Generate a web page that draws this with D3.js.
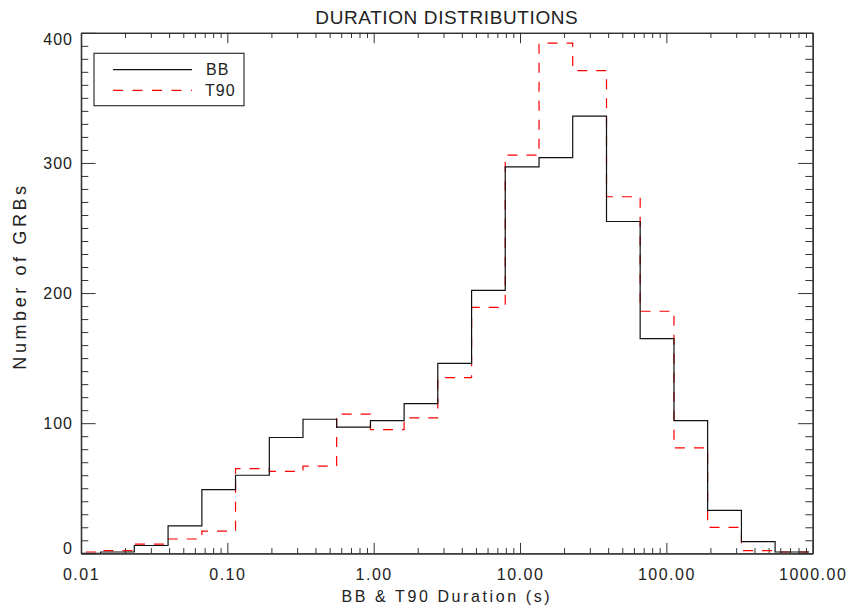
<!DOCTYPE html>
<html>
<head>
<meta charset="utf-8">
<script src="https://cdn.jsdelivr.net/npm/d3@7/dist/d3.min.js"></script>
<style>
  html, body { margin: 0; padding: 0; background: #fff; }
  svg { display: block; }
  text { font-family: "Liberation Sans", Arial, sans-serif; fill: #222; }
</style>
</head>
<body>
<svg id="chart" width="854" height="613"></svg>
<script>
// ---- data ----
// histogram bin edges, log10(duration in s)
const binEdgesLog = [-2.097, -1.866, -1.636, -1.405, -1.174, -0.944, -0.713, -0.483, -0.253, -0.022,
  0.208, 0.438, 0.669, 0.899, 1.130, 1.360, 1.591, 1.821, 2.052, 2.282, 2.513, 2.743, 2.974];
const bbCounts  = [0, 1, 6, 21, 49, 60, 89, 103, 97, 102, 115, 146, 202, 297, 304, 336, 255, 165, 102, 33, 9, 1];
const t90Counts = [1, 2, 7, 11, 17, 65, 63, 67, 107, 95, 104, 135, 189, 306, 392, 371, 274, 186, 81, 20, 2, 1];
const seriesNames = ["BB", "T90"];
const xMajorTicks = [0.01, 0.1, 1, 10, 100, 1000];
const xTickLabels = ["0.01", "0.10", "1.00", "10.00", "100.00", "1000.00"];
const yMajorTicks = [0, 100, 200, 300, 400];
const yTickLabels = ["0", "100", "200", "300", "400"];
const chartTitle = "DURATION DISTRIBUTIONS";
const xTitle = "BB & T90 Duration (s)";
const yTitle = "Number of GRBs";

// ---- layout ----
const L = 81, R = 812.7, T = 32.8, B = 553.3;
const svg = d3.select("#chart");

const x = d3.scaleLog().domain([0.01, 1000]).range([L, R]);
const y = d3.scaleLinear().domain([0, 400]).range([B, T]);

const xMinor = x.ticks().filter(v => !xMajorTicks.some(m => Math.abs(m - v) / m < 1e-9));
const yMinor = d3.range(0, 401, 10).filter(v => v % 100 !== 0);

const axisColor = "#333";
const xMaj = 10.4, xMin = 5.2, yMaj = 14.6, yMin = 7.3;

function styleAxis(g) {
  g.select(".domain").attr("stroke", axisColor).attr("stroke-width", 1.3);
  g.selectAll(".tick line").attr("stroke", axisColor).attr("stroke-width", 1);
  g.selectAll("text").attr("font-size", 16).attr("letter-spacing", "1.5px").attr("fill", "#222")
    .attr("font-family", "'Liberation Sans', Arial, sans-serif");
}

// bottom axis
const gB = svg.append("g").attr("transform", `translate(0,${B})`)
  .call(d3.axisBottom(x).tickValues(xMajorTicks).tickSize(-xMaj).tickPadding(15)
    .tickFormat((d, i) => xTickLabels[i]).tickSizeOuter(0));
styleAxis(gB);
svg.append("g").attr("transform", `translate(0,${B})`)
  .call(d3.axisBottom(x).tickValues(xMinor).tickSize(-xMin).tickFormat("").tickSizeOuter(0))
  .call(styleAxis);
// top axis
svg.append("g").attr("transform", `translate(0,${T})`)
  .call(d3.axisTop(x).tickValues(xMajorTicks).tickSize(-xMaj).tickFormat("").tickSizeOuter(0))
  .call(styleAxis);
svg.append("g").attr("transform", `translate(0,${T})`)
  .call(d3.axisTop(x).tickValues(xMinor).tickSize(-xMin).tickFormat("").tickSizeOuter(0))
  .call(styleAxis);
// left axis
const gL = svg.append("g").attr("transform", `translate(${L},0)`)
  .call(d3.axisLeft(y).tickValues(yMajorTicks).tickSize(-yMaj).tickPadding(8)
    .tickFormat((d, i) => yTickLabels[i]).tickSizeOuter(0));
styleAxis(gL);
gL.selectAll("text").attr("letter-spacing", "1px");
gL.selectAll(".tick").filter(d => d === 0).select("text").attr("dy", "0.0em");
gL.selectAll(".tick").filter(d => d === 400).select("text").attr("dy", "0.7em");
svg.append("g").attr("transform", `translate(${L},0)`)
  .call(d3.axisLeft(y).tickValues(yMinor).tickSize(-yMin).tickFormat("").tickSizeOuter(0))
  .call(styleAxis);
// right axis
svg.append("g").attr("transform", `translate(${R},0)`)
  .call(d3.axisRight(y).tickValues(yMajorTicks).tickSize(-yMaj).tickFormat("").tickSizeOuter(0))
  .call(styleAxis);
svg.append("g").attr("transform", `translate(${R},0)`)
  .call(d3.axisRight(y).tickValues(yMinor).tickSize(-yMin).tickFormat("").tickSizeOuter(0))
  .call(styleAxis);

// clip
svg.append("clipPath").attr("id", "clip").append("rect")
  .attr("x", L).attr("y", T).attr("width", R - L).attr("height", B - T);

function stepPoints(counts) {
  const pts = counts.map((c, i) => [Math.pow(10, binEdgesLog[i]), c]);
  pts.push([Math.pow(10, binEdgesLog[counts.length]), counts[counts.length - 1]]);
  return pts;
}
const line = d3.line().x(d => x(d[0])).y(d => y(d[1])).curve(d3.curveStepAfter);

const plot = svg.append("g").attr("clip-path", "url(#clip)");
plot.append("path").attr("d", line(stepPoints(t90Counts)))
  .attr("fill", "none").attr("stroke", "#ff0000").attr("stroke-width", 1.2)
  .attr("stroke-dasharray", "10,9");
plot.append("path").attr("d", line(stepPoints(bbCounts)))
  .attr("fill", "none").attr("stroke", "#111").attr("stroke-width", 1.2);

// legend
const lg = svg.append("g");
lg.append("rect").attr("x", 94).attr("y", 53.3).attr("width", 150).attr("height", 52.4)
  .attr("fill", "#fff").attr("stroke", axisColor).attr("stroke-width", 1.2);
lg.append("line").attr("x1", 113).attr("x2", 192).attr("y1", 69.7).attr("y2", 69.7)
  .attr("stroke", "#111").attr("stroke-width", 1.2);
lg.append("line").attr("x1", 113).attr("x2", 192).attr("y1", 90.3).attr("y2", 90.3)
  .attr("stroke", "#ff0000").attr("stroke-width", 1.2).attr("stroke-dasharray", "10,9.5");
lg.append("text").attr("x", 206).attr("y", 69.7).attr("dy", "0.36em").attr("font-size", 16)
  .attr("letter-spacing", "1px").text(seriesNames[0]);
lg.append("text").attr("x", 205).attr("y", 90.3).attr("dy", "0.36em").attr("font-size", 16)
  .attr("letter-spacing", "1px").text(seriesNames[1]);

// titles
svg.append("text").attr("x", (L + R) / 2).attr("y", 17).attr("dy", "0.36em")
  .attr("text-anchor", "middle").attr("font-size", 19).attr("letter-spacing", "0.6px").text(chartTitle);
svg.append("text").attr("x", (L + R) / 2).attr("y", 596).attr("dy", "0.36em")
  .attr("text-anchor", "middle").attr("font-size", 16).attr("letter-spacing", "2.6px").text(xTitle);
svg.append("text").attr("transform", `translate(20,276) rotate(-90)`).attr("dy", "0.36em")
  .attr("text-anchor", "middle").attr("font-size", 18).attr("letter-spacing", "3.6px").text(yTitle);
</script>
</body>
</html>
